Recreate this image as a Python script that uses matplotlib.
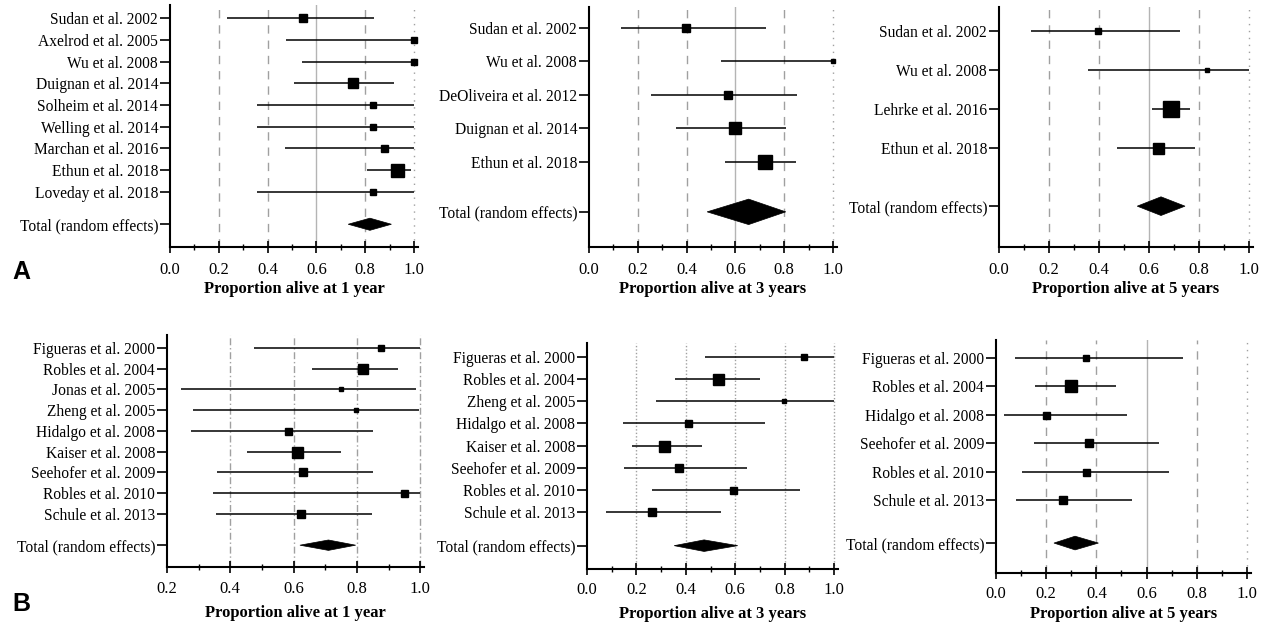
import matplotlib
matplotlib.use("Agg")
import matplotlib.pyplot as plt
from matplotlib.patches import Polygon

plt.rcParams['font.family'] = ['Liberation Serif', 'DejaVu Serif']

# ---------------- data ----------------
# A, 1 year
a1_studies = ["Sudan et al. 2002", "Axelrod et al. 2005", "Wu et al. 2008", "Duignan et al. 2014",
              "Solheim et al. 2014", "Welling et al. 2014", "Marchan et al. 2016", "Ethun et al. 2018",
              "Loveday et al. 2018"]
a1_est = [0.543, 1.0, 1.0, 0.748, 0.832, 0.832, 0.876, 0.930, 0.832]
a1_lo = [0.232, 0.475, 0.539, 0.507, 0.355, 0.355, 0.473, 0.808, 0.355]
a1_hi = [0.836, 1.0, 1.0, 0.917, 1.0, 1.0, 1.0, 0.989, 1.0]
a1_w = [8, 6, 6, 10.5, 6, 6, 7, 13, 6]
a1_total = [0.730, 0.819, 0.907]

# A, 3 years
a3_studies = ["Sudan et al. 2002", "Wu et al. 2008", "DeOliveira et al. 2012", "Duignan et al. 2014",
              "Ethun et al. 2018"]
a3_est = [0.399, 1.0, 0.570, 0.600, 0.720]
a3_lo = [0.130, 0.540, 0.255, 0.358, 0.559]
a3_hi = [0.727, 1.0, 0.852, 0.809, 0.850]
a3_w = [8, 5, 8, 12, 14]
a3_total = [0.484, 0.654, 0.806]

# A, 5 years
a5_studies = ["Sudan et al. 2002", "Wu et al. 2008", "Lehrke et al. 2016", "Ethun et al. 2018"]
a5_est = [0.397, 0.831, 0.687, 0.637]
a5_lo = [0.128, 0.355, 0.611, 0.473]
a5_hi = [0.724, 1.0, 0.764, 0.784]
a5_w = [6, 5, 16, 11]
a5_total = [0.553, 0.648, 0.744]

# B, 1 year
b1_studies = ["Figueras et al. 2000", "Robles et al. 2004", "Jonas et al. 2005", "Zheng et al. 2005",
              "Hidalgo et al. 2008", "Kaiser et al. 2008", "Seehofer et al. 2009", "Robles et al. 2010",
              "Schule et al. 2013"]
b1_est = [0.875, 0.819, 0.749, 0.798, 0.582, 0.610, 0.629, 0.948, 0.624]
b1_lo = [0.474, 0.657, 0.244, 0.282, 0.276, 0.454, 0.359, 0.346, 0.355]
b1_hi = [1.0, 0.929, 0.988, 0.995, 0.851, 0.749, 0.852, 1.0, 0.849]
b1_w = [6, 10, 5, 5, 7, 11, 8, 7, 8]
b1_total = [0.620, 0.710, 0.796]

# B, 3 years
b3_studies = ["Figueras et al. 2000", "Robles et al. 2004", "Zheng et al. 2005", "Hidalgo et al. 2008",
              "Kaiser et al. 2008", "Seehofer et al. 2009", "Robles et al. 2010", "Schule et al. 2013"]
b3_est = [0.879, 0.532, 0.798, 0.408, 0.310, 0.373, 0.590, 0.265]
b3_lo = [0.478, 0.357, 0.280, 0.144, 0.182, 0.151, 0.265, 0.078]
b3_hi = [1.0, 0.700, 1.0, 0.720, 0.464, 0.649, 0.861, 0.542]
b3_w = [6, 11, 4, 7, 11, 8, 7, 8]
b3_total = [0.353, 0.474, 0.610]

# B, 5 years
b5_studies = ["Figueras et al. 2000", "Robles et al. 2004", "Hidalgo et al. 2008", "Seehofer et al. 2009",
              "Robles et al. 2010", "Schule et al. 2013"]
b5_est = [0.358, 0.298, 0.198, 0.371, 0.358, 0.265]
b5_lo = [0.077, 0.156, 0.032, 0.152, 0.105, 0.078]
b5_hi = [0.745, 0.477, 0.521, 0.648, 0.691, 0.541]
b5_w = [6, 12, 7, 8, 7, 8]
b5_total = [0.231, 0.315, 0.408]

total_label = "Total (random effects)"

W, H = 1269, 624
fig = plt.figure(figsize=(W / 100, H / 100), dpi=100)


def px_axes(l, r, t, b):
    return fig.add_axes([l / W, 1 - b / H, (r - l) / W, (b - t) / H])


dash_styles_std = {0.2: (0, (6, 5)), 0.4: (0, (6, 5)), 0.6: '-', 0.8: (0, (6, 5)), 1.0: (0, (1, 4))}


def forest(ax, studies, est, lo, hi, w, total, xlabel, xmin, gridstyle, dh, xpad=0.016, labelpad=2, pad=7):
    n = len(studies)
    ys = list(range(n))
    ty = n - 1 + 1.5
    ax.set_xlim(xmin, 1.0 + xpad)
    ax.set_ylim(n - 1 + 2.55, -0.62)
    # reference grid lines
    for gx, ls in gridstyle.items():
        if gx <= xmin:
            continue
        col = '#a0a0a0' if ls != '-' else '#b4b4b4'
        ax.axvline(gx, color=col, lw=1.0, ls=ls, zorder=0)
    for y, e, l, h, s in zip(ys, est, lo, hi, w):
        ax.plot([l, h], [y, y], color='black', lw=1.1, zorder=2, solid_capstyle='butt')
        ax.plot([e], [y], marker='s', ms=s * 0.72, color='black', zorder=3, lw=0)
    dl, dc, dr = total
    ax.add_patch(Polygon([[dl, ty], [dc, ty - dh], [dr, ty], [dc, ty + dh]], closed=True,
                         facecolor='black', edgecolor='black', lw=0.5, zorder=3))
    ax.set_yticks(ys + [ty])
    ax.set_yticklabels(studies + [total_label], fontsize=11.2)
    ticks = [round(xmin + 0.2 * i, 1) for i in range(int(round((1.0 - xmin) / 0.2)) + 1)]
    ax.set_xticks(ticks)
    ax.set_xticklabels([f"{t:.1f}" for t in ticks], fontsize=12)
    ax.set_xticks([round(xmin + 0.1 + 0.2 * i, 1) for i in range(len(ticks) - 1)], minor=True)
    ax.tick_params(axis='x', which='major', direction='inout', length=8, width=1.2, pad=pad)
    ax.tick_params(axis='x', which='minor', direction='inout', length=5, width=1.0)
    ax.tick_params(axis='y', which='major', direction='out', length=7, width=1.2, pad=1.5)
    for sp in ('top', 'right'):
        ax.spines[sp].set_visible(False)
    for sp in ('left', 'bottom'):
        ax.spines[sp].set_linewidth(1.5)
    ax.set_xlabel(xlabel, fontsize=12, fontweight='bold', labelpad=labelpad)


dashdot = {0.4: (0, (5, 2, 1, 2)), 0.6: (0, (5, 2, 1, 2)), 0.8: (0, (5, 2, 1, 2)), 1.0: (0, (5, 2, 1, 2))}
dotted = {0.2: (0, (1, 1.5)), 0.4: (0, (1, 1.5)), 0.6: (0, (1, 1.5)), 0.8: (0, (1, 1.5)), 1.0: (0, (1, 1.5))}

ax = px_axes(170, 418, 5, 247)
forest(ax, a1_studies, a1_est, a1_lo, a1_hi, a1_w, a1_total, "Proportion alive at 1 year", 0.0, dash_styles_std, 0.28)
ax = px_axes(589, 837, 7, 247)
forest(ax, a3_studies, a3_est, a3_lo, a3_hi, a3_w, a3_total, "Proportion alive at 3 years", 0.0, dash_styles_std, 0.38)
ax = px_axes(999, 1253, 7, 247)
forest(ax, a5_studies, a5_est, a5_lo, a5_hi, a5_w, a5_total, "Proportion alive at 5 years", 0.0, dash_styles_std, 0.24)
ax = px_axes(167, 424, 335, 567)
forest(ax, b1_studies, b1_est, b1_lo, b1_hi, b1_w, b1_total, "Proportion alive at 1 year", 0.2, dashdot, 0.25,
       xpad=0.012, labelpad=6, pad=6)
ax = px_axes(587, 838, 343, 569)
forest(ax, b3_studies, b3_est, b3_lo, b3_hi, b3_w, b3_total, "Proportion alive at 3 years", 0.0, dotted, 0.26,
       labelpad=6, pad=5)
ax = px_axes(996, 1251, 340, 573)
forest(ax, b5_studies, b5_est, b5_lo, b5_hi, b5_w, b5_total, "Proportion alive at 5 years", 0.0, dash_styles_std, 0.24,
       labelpad=3, pad=5)

fig.text(12 / W, 1 - 272 / H, "A", fontsize=18, fontweight='bold', family='Liberation Sans', va='center', ha='left')
fig.text(12 / W, 1 - 604 / H, "B", fontsize=18, fontweight='bold', family='Liberation Sans', va='center', ha='left')

fig.savefig("out.png", dpi=100, facecolor='white')
